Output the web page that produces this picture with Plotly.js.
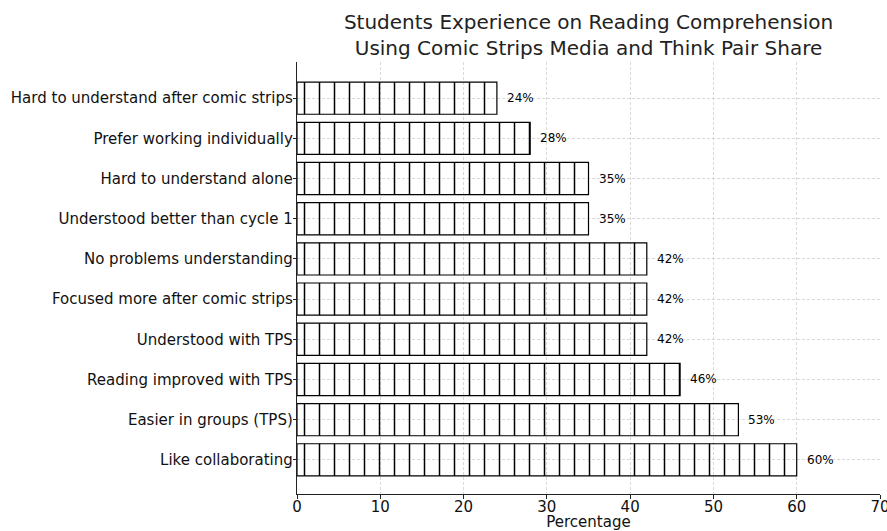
<!DOCTYPE html>
<html>
<head>
<meta charset="utf-8">
<script src="https://cdn.plot.ly/plotly-3.0.1.min.js"></script>
<style>html,body{margin:0;padding:0;background:#fff;}#chart{width:887px;height:531px;}</style>
</head>
<body>
<div id="chart"></div>
<script>
const categories = [
  "Hard to understand after comic strips",
  "Prefer working individually",
  "Hard to understand alone",
  "Understood better than cycle 1",
  "No problems understanding",
  "Focused more after comic strips",
  "Understood with TPS",
  "Reading improved with TPS",
  "Easier in groups (TPS)",
  "Like collaborating"
];
const percentages = [24, 28, 35, 35, 42, 42, 42, 46, 53, 60];
const xTicks = [0, 10, 20, 30, 40, 50, 60, 70];

const font = "DejaVu Sans, sans-serif";

const trace = {
  type: "bar",
  orientation: "h",
  x: percentages,
  y: categories,
  width: 0.8,
  marker: {
    color: "rgba(0,0,0,0)",
    line: {color: "#000", width: 1.2},
    pattern: {shape: "|", size: 15, solidity: 0.1, fgcolor: "#000", bgcolor: "rgba(0,0,0,0)"}
  },
  hoverinfo: "none"
};

const annotations = categories.map((c, i) => ({
  x: percentages[i], y: c, xref: "x", yref: "y",
  text: percentages[i] + "%", showarrow: false,
  xanchor: "left", xshift: 8,
  font: {family: font, size: 12, color: "#000"}
}));

const layout = {
  width: 887, height: 531,
  margin: {l: 297, r: 7, t: 62, b: 37},
  paper_bgcolor: "#fff", plot_bgcolor: "#fff",
  showlegend: false,
  font: {family: font, color: "#000"},
  title: {
    text: "Students Experience on Reading Comprehension<br>Using Comic Strips Media and Think Pair Share",
    font: {family: font, size: 20, color: "#222"},
    x: 0.5, xref: "paper", xanchor: "center",
    y: 1, yref: "paper", yanchor: "bottom",
    pad: {b: 33}
  },
  xaxis: {
    range: [0, 70], tickvals: xTicks, ticktext: xTicks.map(String),
    showline: true, linecolor: "#222", linewidth: 1.2,
    ticks: "outside", ticklen: 4, tickcolor: "#222",
    ticklabelstandoff: -5,
    showgrid: true, gridcolor: "#cfcfcf", griddash: "3px,2px", gridwidth: 0.8,
    zeroline: false,
    ticklabeloverflow: "allow",
    tickfont: {family: font, size: 15, color: "#111"},
    title: {text: "Percentage", font: {family: font, size: 15, color: "#111"}, standoff: 8}
  },
  yaxis: {
    type: "category",
    range: [9.85, -0.9],
    showline: true, linecolor: "#222", linewidth: 1.2,
    ticks: "outside", ticklen: 3, tickcolor: "#222",
    ticklabelstandoff: -3,
    showgrid: true, gridcolor: "#cfcfcf", griddash: "3px,2px", gridwidth: 0.8,
    zeroline: false,
    tickfont: {family: font, size: 15, color: "#111"}
  },
  annotations: annotations
};

Plotly.newPlot("chart", [trace], layout, {staticPlot: true, displayModeBar: false});
</script>
</body>
</html>
